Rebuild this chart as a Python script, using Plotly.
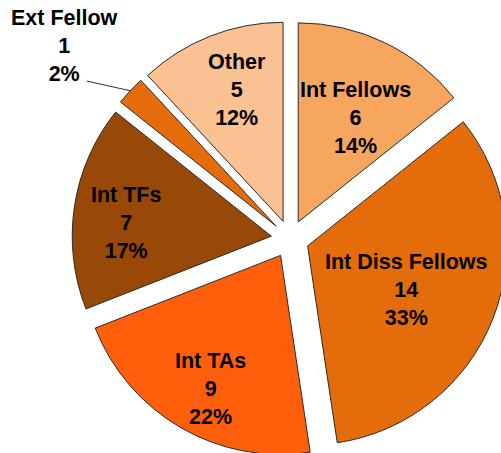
import math
import plotly.graph_objects as go

categories = ["Int Fellows", "Int Diss Fellows", "Int TAs", "Int TFs", "Ext Fellow", "Other"]
counts = [6, 14, 9, 7, 1, 5]
pct_labels = ["14%", "33%", "22%", "17%", "2%", "12%"]

# styles
colors = ["#F7A660", "#E46C0A", "#FF5F0A", "#984807", "#E46C0A", "#FAC192"]
label_radius = [0.61, 0.54, 0.745, 0.73, None, 0.715]  # fraction of radius (None = outside label)
label_turn = [2.7, 1.3, -1.7, -2.0, 0.0, 2.4]  # degrees off the slice bisector
PULL = 0.095
FIG_W, FIG_H = 580, 478
M_L, M_R, M_T, M_B = 72, 72, 21, 21
FONT = dict(family="Liberation Sans, Arial, sans-serif", size=21.5, color="black")

fig = go.Figure(go.Pie(
    labels=categories,
    values=counts,
    text=pct_labels,
    textinfo="none",
    marker=dict(colors=colors, line=dict(color="#2a2a2a", width=1)),
    sort=False,
    direction="clockwise",
    rotation=0,
    pull=PULL,
    showlegend=False,
    hoverinfo="label+value+text",
))

# geometry of the pie as plotly lays it out (pixels inside plot area)
box_w = FIG_W - M_L - M_R
box_h = FIG_H - M_T - M_B
R = min(box_w, box_h) / (2 + 2 * PULL)
cx, cy = box_w / 2, box_h / 2
d = PULL * R
total = sum(counts)


def to_paper(px, py):
    return px / box_w, 1 - py / box_h


cum = 0
for cat, v, pct, lr, turn in zip(categories, counts, pct_labels, label_radius, label_turn):
    mid = math.radians(360 * (cum + v / 2) / total)
    cum += v
    txt = f"<b>{cat}<br>{v}<br>{pct}</b>"
    if lr is not None:
        theta = mid + math.radians(turn)
        px = cx + d * math.sin(mid) + lr * R * math.sin(theta)
        py = cy - d * math.cos(mid) - lr * R * math.cos(theta)
        x, y = to_paper(px, py)
        fig.add_annotation(x=x, y=y, xref="paper", yref="paper", text=txt,
                           xanchor="center", yanchor="middle", yshift=-3,
                           showarrow=False, font=FONT, align="center")
    else:
        # outside label with leader line
        ex, ey = cx + (d + R) * math.sin(mid), cy - (d + R) * math.cos(mid)
        x, y = to_paper(ex, ey)
        fig.add_annotation(x=x, y=y, xref="paper", yref="paper", text="",
                           showarrow=True, arrowhead=0, arrowwidth=1, arrowcolor="#333333",
                           ax=-45, ay=-10, axref="pixel", ayref="pixel")
        fig.add_annotation(x=x, y=y, xref="paper", yref="paper", text=txt,
                           xanchor="center", yanchor="middle",
                           showarrow=False, font=FONT, align="center",
                           xshift=-66, yshift=45)

fig.update_layout(
    width=FIG_W, height=FIG_H,
    margin=dict(l=M_L, r=M_R, t=M_T, b=M_B),
    paper_bgcolor="white",
    plot_bgcolor="white",
)

fig.write_html("out.html", post_script="document.body.style.margin='0';document.body.style.overflow='hidden';")
